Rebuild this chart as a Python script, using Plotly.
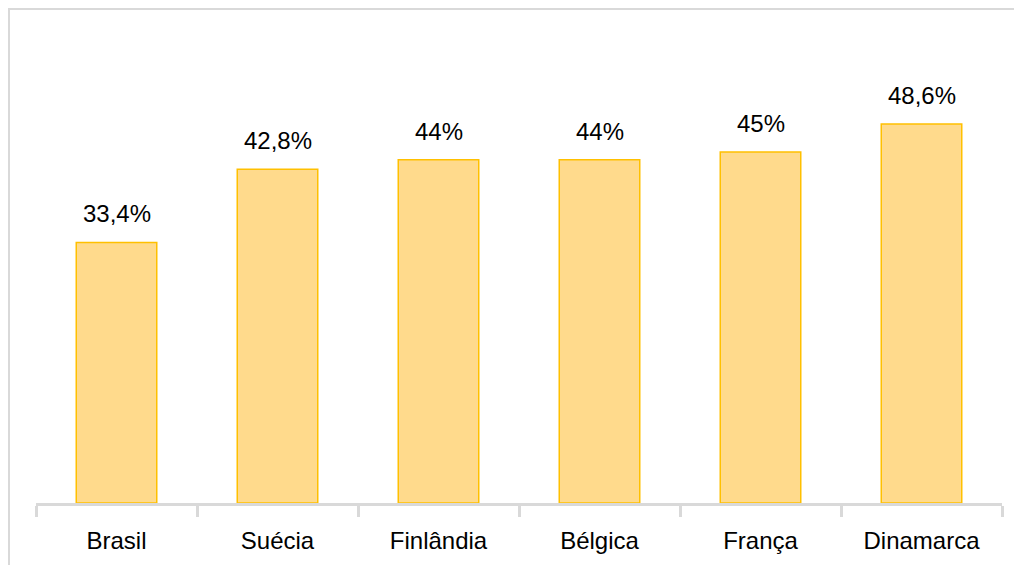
import plotly.graph_objects as go

paises = ["Brasil", "Suécia", "Finlândia", "Bélgica", "França", "Dinamarca"]
valores = [33.4, 42.8, 44, 44, 45, 48.6]
rotulos = ["33,4%", "42,8%", "44%", "44%", "45%", "48,6%"]

# page has an 8px body margin: figure is drawn from (8, 8)
W, H = 1014, 557
L, R, T, B = 28, 20, 27, 62

fig = go.Figure()
fig.add_trace(go.Bar(
    x=paises, y=valores,
    marker=dict(color="#FFDA8C", line=dict(color="#FFC000", width=1.5)),
    hoverinfo="skip",
))

for p, v, t in zip(paises, valores, rotulos):
    fig.add_annotation(x=p, y=v, text=t, showarrow=False, yanchor="bottom",
                       yshift=13, font=dict(family="Liberation Sans", size=24, color="#000000"))

pw = W - L - R
ph = H - T - B
def px(xp):
    return (xp - L) / pw
def py(yp):
    return (H - B - yp) / ph

# outer chart-area frame (top and left edges visible)
fig.add_shape(type="line", xref="paper", yref="paper",
              x0=px(0), x1=px(1040), y0=py(0.5), y1=py(0.5),
              line=dict(color="#D9D9D9", width=3))
fig.add_shape(type="line", xref="paper", yref="paper",
              x0=px(0.5), x1=px(0.5), y0=py(0), y1=py(580),
              line=dict(color="#D9D9D9", width=3))

fig.update_layout(
    width=W, height=H,
    margin=dict(l=L, r=R, t=T, b=B),
    paper_bgcolor="white", plot_bgcolor="white",
    bargap=0.5,
    showlegend=False,
    xaxis=dict(
        showline=True, linecolor="#D9D9D9", linewidth=3,
        ticks="outside", tickson="boundaries", ticklen=11, tickwidth=3, tickcolor="#D9D9D9",
        ticklabelstandoff=14,
        tickfont=dict(family="Liberation Sans", size=24, color="#000000"),
        showgrid=False, zeroline=False,
    ),
    yaxis=dict(range=[0, 60], visible=False, showgrid=False, zeroline=False),
)

fig.write_html("out.html")
